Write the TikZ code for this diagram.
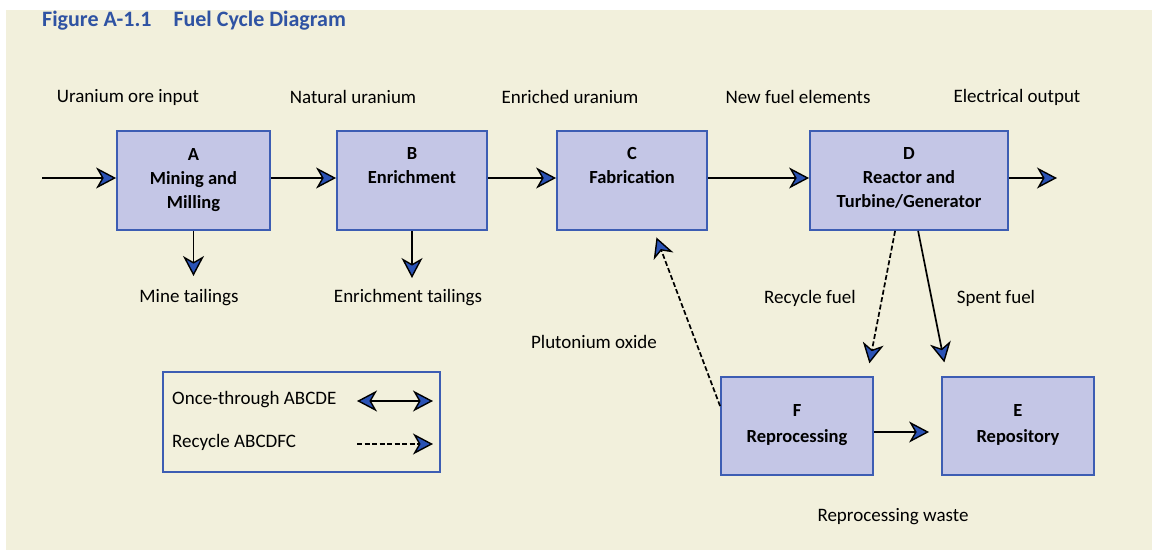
\documentclass[tikz,border=0pt]{standalone}
\usepackage{fontspec}
\setmainfont{Carlito}
\usetikzlibrary{arrows.meta,calc}
\definecolor{bgbeige}{HTML}{F2F0DC}
\definecolor{boxfill}{HTML}{C4C6E6}
\definecolor{boxline}{HTML}{3D5DB3}
\definecolor{tipblue}{HTML}{2A52B5}
\definecolor{titleblue}{HTML}{2F53A3}
\tikzset{
  bluetip/.tip={Stealth[length=20pt,width=21pt,inset=6pt,fill=tipblue,line width=1.4pt]},
  box/.style={draw=boxline, line width=1.8pt, fill=boxfill, minimum height=99pt, inner sep=0pt},
  boxtext/.style={anchor=north, align=center, font=\fontsize{18.5}{24}\selectfont\bfseries, inner sep=0pt},
  lbl/.style={font=\fontsize{19}{22}\selectfont, inner sep=0pt},
  flow/.style={line width=1.7pt, -bluetip},
  dflow/.style={flow, dash pattern=on 5pt off 2.5pt},
}
\begin{document}
\begin{tikzpicture}[x=1pt,y=-1pt]
\useasboundingbox (0,0) rectangle (1152,550);
\fill[bgbeige] (6,10) rectangle (1152,550);
\node[anchor=west, text=titleblue, font=\fontsize{22}{24}\selectfont\bfseries, inner sep=0pt] (title) at (42,21) {Figure A-1.1\hspace{1.0em}Fuel Cycle Diagram};
% boxes
\node[box, minimum width=153pt] (A) at (193.5,180.5) {};
\node[box, minimum width=150pt] (B) at (412,180.5) {};
\node[box, minimum width=150pt] (C) at (632,180.5) {};
\node[box, minimum width=198pt] (D) at (909,180.5) {};
\node[box, minimum width=152pt, minimum height=98pt] (F) at (797,426) {};
\node[box, minimum width=152pt, minimum height=98pt] (E) at (1018,426) {};
\node[boxtext] (At) at ($(A.north)+(0,18)$) {A\\Mining and\\Milling};
\node[boxtext] (Bt) at ($(B.north)+(0,17)$) {B\\Enrichment};
\node[boxtext] (Ct) at ($(C.north)+(0,17)$) {C\\Fabrication};
\node[boxtext] (Dt) at ($(D.north)+(0,17)$) {D\\Reactor and\\Turbine/Generator};
\node[boxtext, font=\fontsize{18.5}{26}\selectfont\bfseries] (Ft) at ($(F.north)+(0,28)$) {F\\Reprocessing};
\node[boxtext, font=\fontsize{18.5}{26}\selectfont\bfseries] (Et) at ($(E.north)+(0,28)$) {E\\Repository};
% labels
\node[lbl] (l1) at (128,97) {Uranium ore input};
\node[lbl] (l2) at (353,97) {Natural uranium};
\node[lbl] (l3) at (570,97) {Enriched uranium};
\node[lbl] (l4) at (798,97) {New fuel elements};
\node[lbl] (l5) at (1017,97) {Electrical output};
\node[lbl] (l6) at (189,298) {Mine tailings};
\node[lbl] (l7) at (408,298) {Enrichment tailings};
\node[lbl] (l8) at (810,298) {Recycle fuel};
\node[lbl] (l9) at (996,298) {Spent fuel};
\node[lbl] (l10) at (594,342) {Plutonium oxide};
\node[lbl] (l11) at (893,517) {Reprocessing waste};
% free ends
\coordinate (in) at (42,178);
\coordinate (out) at (1057,178);
\coordinate (mt) at (193.5,276);
\coordinate (et) at (412,278);
% main flow
\draw[flow] (in) -- (A.west |- in);
\draw[flow] (A.east |- in) -- (B.west |- in);
\draw[flow] (B.east |- in) -- (C.west |- in);
\draw[flow] (C.east |- in) -- (D.west |- in);
\draw[flow] (D.east |- in) -- (out);
\draw[flow] (A.south) -- (mt);
\draw[flow] (B.south) -- (et);
\draw[dflow, shorten >=13pt] ($(D.south west)+(86,0)$) -- ($(F.north east)+(-7,0)$);
\draw[flow, shorten >=14pt] ($(D.south west)+(109,0)$) -- ($(E.north west)+(6,0)$);
\draw[dflow, shorten >=7pt] ($(F.north west)+(0,30)$) -- ($(C.south)+(22,0)$);
\draw[flow, shorten >=12pt] (F.east |- 0,432) -- (E.west |- 0,432);
% legend
\node[draw=boxline, line width=1.5pt, minimum width=277pt, minimum height=100pt, inner sep=0pt] (leg) at (301.5,422) {};
\node[lbl, anchor=west] (lg1) at (172,400) {Once-through ABCDE};
\node[lbl, anchor=west] (lg2) at (172,442) {Recycle ABCDFC};
\coordinate (a1) at (357,401);
\coordinate (a2) at (433,401);
\coordinate (b1) at (357,444);
\coordinate (b2) at (433,444);
\draw[line width=1.7pt, bluetip-bluetip] (a1) -- (a2);
\draw[dflow] (b1) -- (b2);
\end{tikzpicture}
\end{document}
